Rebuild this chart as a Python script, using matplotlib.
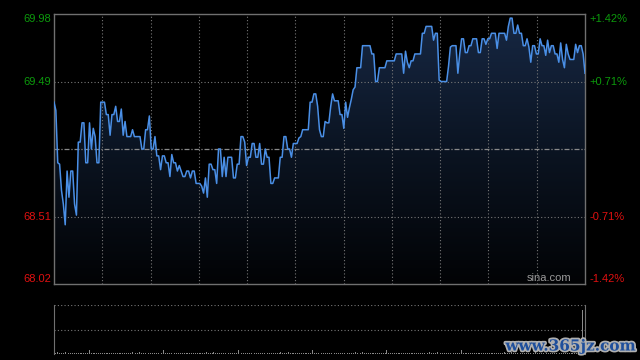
import numpy as np
import matplotlib
matplotlib.use("Agg")
import matplotlib.pyplot as plt
import matplotlib.patheffects as pe
from matplotlib.colors import LinearSegmentedColormap

# intraday price (left to right)
price_am = [69.34, 69.28, 68.90, 68.89, 68.70, 68.60, 68.45, 68.84, 68.65, 68.84,
            68.84, 68.60, 68.52, 69.05, 69.05, 69.19, 69.19, 68.90, 68.90, 69.19,
            69.00, 69.15, 69.09, 68.90, 68.90, 69.34, 69.34, 69.34, 69.25, 69.25,
            69.10, 69.25, 69.25, 69.31, 69.20, 69.20, 69.29, 69.10, 69.20, 69.09,
            69.09, 69.09, 69.14, 69.09, 69.09, 69.09, 69.09, 69.00, 69.00, 69.14,
            69.14, 69.24, 69.00, 69.00, 69.09, 68.95, 68.95, 68.85, 68.95, 68.95,
            68.90, 68.90, 68.80, 68.96, 68.90, 68.90, 68.84, 68.88, 68.84, 68.80,
            68.80]
price_mid = [68.84, 68.84, 68.79, 68.84, 68.84, 68.75, 68.75, 68.75, 68.73, 68.68,
             68.79, 68.65, 68.89, 68.89, 68.85, 68.85, 68.75, 69.00, 69.00, 68.80,
             68.94, 68.80, 68.94, 68.94, 68.94, 68.79, 68.79, 68.89, 68.89, 69.09,
             69.09, 69.05, 68.88, 68.94, 68.94, 69.04, 69.04, 68.94, 68.94, 69.04,
             68.89, 68.89, 69.00, 68.94, 68.94, 68.75, 68.75, 68.79, 68.79, 68.79,
             68.94, 68.94, 69.09, 69.09, 69.00, 69.00, 68.94, 69.04, 69.04, 69.04,
             69.08, 69.09, 69.14, 69.14, 69.14, 69.14, 69.34, 69.34, 69.40, 69.40,
             69.31, 69.14, 69.09, 69.09, 69.20]
price_pm = [69.19, 69.19, 69.31, 69.40, 69.35, 69.35, 69.35, 69.25, 69.25, 69.15,
            69.34, 69.23, 69.30, 69.36, 69.43, 69.45, 69.59, 69.59, 69.59, 69.75,
            69.75, 69.75, 69.75, 69.75, 69.69, 69.69, 69.49, 69.49, 69.59, 69.59,
            69.59, 69.59, 69.64, 69.64, 69.64, 69.64, 69.64, 69.69, 69.69, 69.69,
            69.69, 69.55, 69.71, 69.63, 69.59, 69.64, 69.64, 69.69, 69.69, 69.69,
            69.69, 69.84, 69.84, 69.89, 69.89, 69.89, 69.89, 69.79, 69.84, 69.84,
            69.50, 69.49, 69.49, 69.49, 69.49, 69.60, 69.74, 69.75]
price_end = [69.75, 69.75, 69.55, 69.69, 69.80, 69.80, 69.70, 69.70, 69.75, 69.75,
             69.80, 69.80, 69.80, 69.70, 69.70, 69.80, 69.80, 69.76, 69.80, 69.80,
             69.84, 69.84, 69.84, 69.73, 69.84, 69.84, 69.84, 69.84, 69.79, 69.89,
             69.95, 69.95, 69.84, 69.84, 69.90, 69.84, 69.84, 69.75, 69.75, 69.80,
             69.74, 69.63, 69.75, 69.75, 69.69, 69.69, 69.80, 69.75, 69.75, 69.68,
             69.79, 69.70, 69.75, 69.75, 69.69, 69.69, 69.63, 69.77, 69.65, 69.59,
             69.76, 69.69, 69.65, 69.65, 69.65, 69.76, 69.70, 69.75, 69.75, 69.69,
             69.55]
prices = np.array(price_am + price_mid + price_pm + price_end)
n = len(prices)

prev_close = 69.00
y_lo, y_hi = 68.02, 69.98
left_ticks = [69.98, 69.49, 68.51, 68.02]
right_ticks = ['+1.42%', '+0.71%', '-0.71%', '-1.42%']
tick_colors = ['#0c9a0c', '#0c9a0c', '#e01010', '#e01010']

# volume (tiny except the closing auction bar)
vol_small = [3, 2, 4, 2, 3, 2, 5, 3, 2, 3, 2, 3, 2, 2, 3, 2, 2, 3, 2, 8,
             2, 3, 2, 2, 3, 2, 2, 2, 3, 2, 2, 2, 2, 3, 2, 2, 2, 3, 2, 2]
vol_last = 90

fig = plt.figure(figsize=(6.4, 3.6), dpi=100, facecolor='black')
ax = fig.add_axes([54/640, 1-284/360, 531/640, 270/360])
axv = fig.add_axes([54/640, 1-354/360, 531/640, 49/360])

x = np.arange(n)
ax.set_facecolor('black')
ax.set_xlim(0, n - 1)
ax.set_ylim(y_lo, y_hi)

# gradient fill under the line
cmap = LinearSegmentedColormap.from_list('bg', ['#020305', '#0b1422', '#172844'])
grad = np.linspace(0, 1, 256).reshape(-1, 1)
im = ax.imshow(grad, aspect='auto', cmap=cmap, origin='lower',
               extent=[0, n - 1, y_lo, y_hi], zorder=1)
poly = ax.fill_between(x, prices, y_lo, color='none')
im.set_clip_path(poly.get_paths()[0], transform=ax.transData)

ax.plot(x, prices, color='#4a8fe6', lw=1.1, zorder=3)

# grid
for xv in np.linspace(0, n - 1, 12)[1:-1]:
    ax.axvline(xv, color='#777777', lw=0.8, ls=(0, (1, 2)), zorder=2)
for yv in [69.49, 68.51]:
    ax.axhline(yv, color='#777777', lw=0.8, ls=(0, (1, 2)), zorder=2)
ax.axhline(prev_close, color='#8a8a8a', lw=0.9, ls=(0, (4, 1.5, 1, 1.5)), zorder=2)

for s in ax.spines.values():
    s.set_color('#707070')
    s.set_linewidth(1)
ax.set_xticks([])
ax.set_yticks([])

tr_l = ax.get_yaxis_transform()
for i, (v, lab, c) in enumerate(zip(left_ticks, right_ticks, tick_colors)):
    va = 'top' if i == 0 else ('bottom' if i == 3 else 'center')
    ax.text(-0.006, v, f'{v:.2f}', transform=tr_l, ha='right', va=va,
            color=c, fontsize=8, family='Liberation Sans')
    ax.text(1.008, v, lab, transform=tr_l, ha='left', va=va,
            color=c, fontsize=8, family='Liberation Sans')

ax.text(0.975, 0.005, 'sina.com', transform=ax.transAxes, ha='right', va='bottom',
        color='#9a9a9a', fontsize=8, family='Liberation Sans')

# volume panel
axv.set_facecolor('black')
vols = np.array(vol_small * (n // len(vol_small) + 1))[:n - 1].tolist() + [vol_last]
axv.bar(x, vols, width=0.5, color='#8a8a8a', zorder=3)
axv.set_xlim(0, n + 0.5)
axv.set_ylim(0, 100)
for yv in [0, 50, 100]:
    axv.axhline(yv, color='#777777', lw=0.8, ls=(0, (1, 2)), zorder=2)
for k in ['top', 'bottom']:
    axv.spines[k].set_visible(False)
for k in ['left', 'right']:
    axv.spines[k].set_color('#707070')
axv.set_xticks([])
axv.set_yticks([])

fig.text(0.993, 0.018, 'www.365jz.com', ha='right', va='bottom', fontsize=11,
         fontweight='bold', family='DejaVu Serif', color='#1f4f9c',
         path_effects=[pe.withStroke(linewidth=2.5, foreground='#b0b0b0')])

fig.savefig('out.png', dpi=100, facecolor='black')
